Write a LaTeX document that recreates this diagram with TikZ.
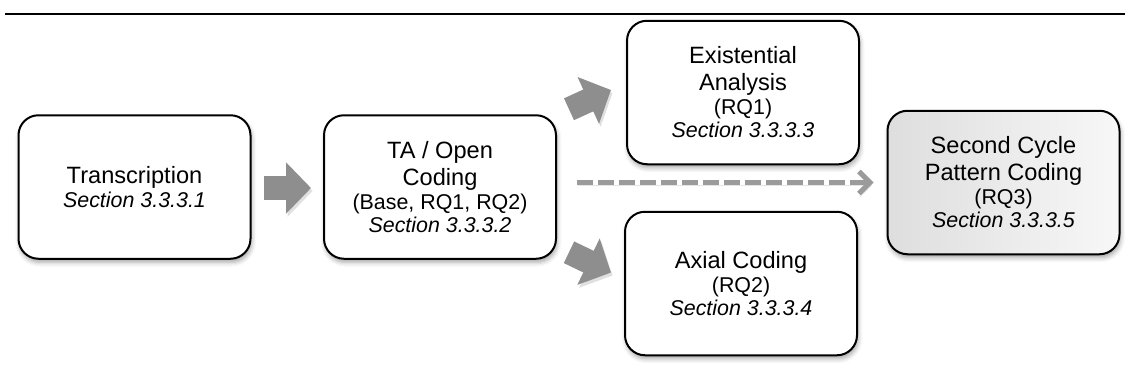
\documentclass[tikz,border=0pt]{standalone}
\usepackage{fontspec}
\setmainfont{Liberation Sans}
\usetikzlibrary{arrows.meta, calc, shadows.blur}

\definecolor{arrowgray}{RGB}{142,142,142}
\definecolor{dashgray}{RGB}{155,155,155}

\newcommand{\smalltext}{\fontsize{10.7}{12}\selectfont}

\begin{document}
\begin{tikzpicture}[x=0.5pt, y=-0.5pt,
  stage/.style={draw=black, line width=1pt, rounded corners=10pt, fill=white,
    minimum width=116pt, minimum height=71.75pt, align=center, inner sep=2pt,
    font=\fontsize{11.8}{13.5}\selectfont,
    blur shadow={shadow xshift=0.6pt, shadow yshift=-1.8pt,
      shadow blur radius=2.2pt, shadow opacity=35}},
  final/.style={stage, left color=black!13, right color=black!3},
  blockarrow/.style={draw=arrowgray, line width=12pt,
    -{Triangle[length=12.5pt, width=25pt]},
    preaction={draw=black, opacity=0.12,
      transform canvas={shift={(0.8pt,-1.5pt)}}}},
  dasharrow/.style={draw=dashgray, line width=2.5pt,
    dash pattern=on 8pt off 2.5pt,
    -{Straight Barb[length=5.5pt, width=11pt]},
    preaction={draw=black, opacity=0.10,
      transform canvas={shift={(0.6pt,-1.6pt)}}}}
]
\useasboundingbox (0,0) rectangle (1125,381);

% horizontal rule across the top
\draw[line width=1pt] (5,14) -- (1125,14);

% stages
\node[stage] (tr) at (134.5,187)
  {Transcription\\[-1.5pt] {\smalltext\textit{Section 3.3.3.1}}};
\node[stage] (ta) at (440,187)
  {TA / Open\\ Coding\\[-1.5pt] {\smalltext (Base, RQ1, RQ2)}\\[-2pt]
   {\smalltext\textit{Section 3.3.3.2}}};
\node[stage] (ex) at (743,92.5)
  {Existential\\ Analysis\\[-1.5pt] {\smalltext (RQ1)}\\[-2pt]
   {\smalltext\textit{Section 3.3.3.3}}};
\node[stage] (ax) at (741,283.5)
  {Axial Coding\\[-1.5pt] {\smalltext (RQ2)}\\[-2pt]
   {\smalltext\textit{Section 3.3.3.4}}};
\node[final] (sc) at (1003.5,182.5)
  {Second Cycle\\ Pattern Coding\\[-1.5pt] {\smalltext (RQ3)}\\[-2pt]
   {\smalltext\textit{Section 3.3.3.5}}};

% flow between stages
\draw[blockarrow] ($(tr.east)+(12,1)$) -- ($(ta.west)+(-12,1)$);
\draw[blockarrow] ($(ta.north east)+(12,-5)$) -- ($(ex.west)+(-15,-2.5)$);
\draw[blockarrow] ($(ta.south east)+(12,-7.5)$) -- ($(ax.west)+(-13,-11)$);
\draw[dasharrow] ($(ta.east|-sc.west)+(20,0)$) -- ($(sc.west)+(-13,0)$);
\end{tikzpicture}
\end{document}
